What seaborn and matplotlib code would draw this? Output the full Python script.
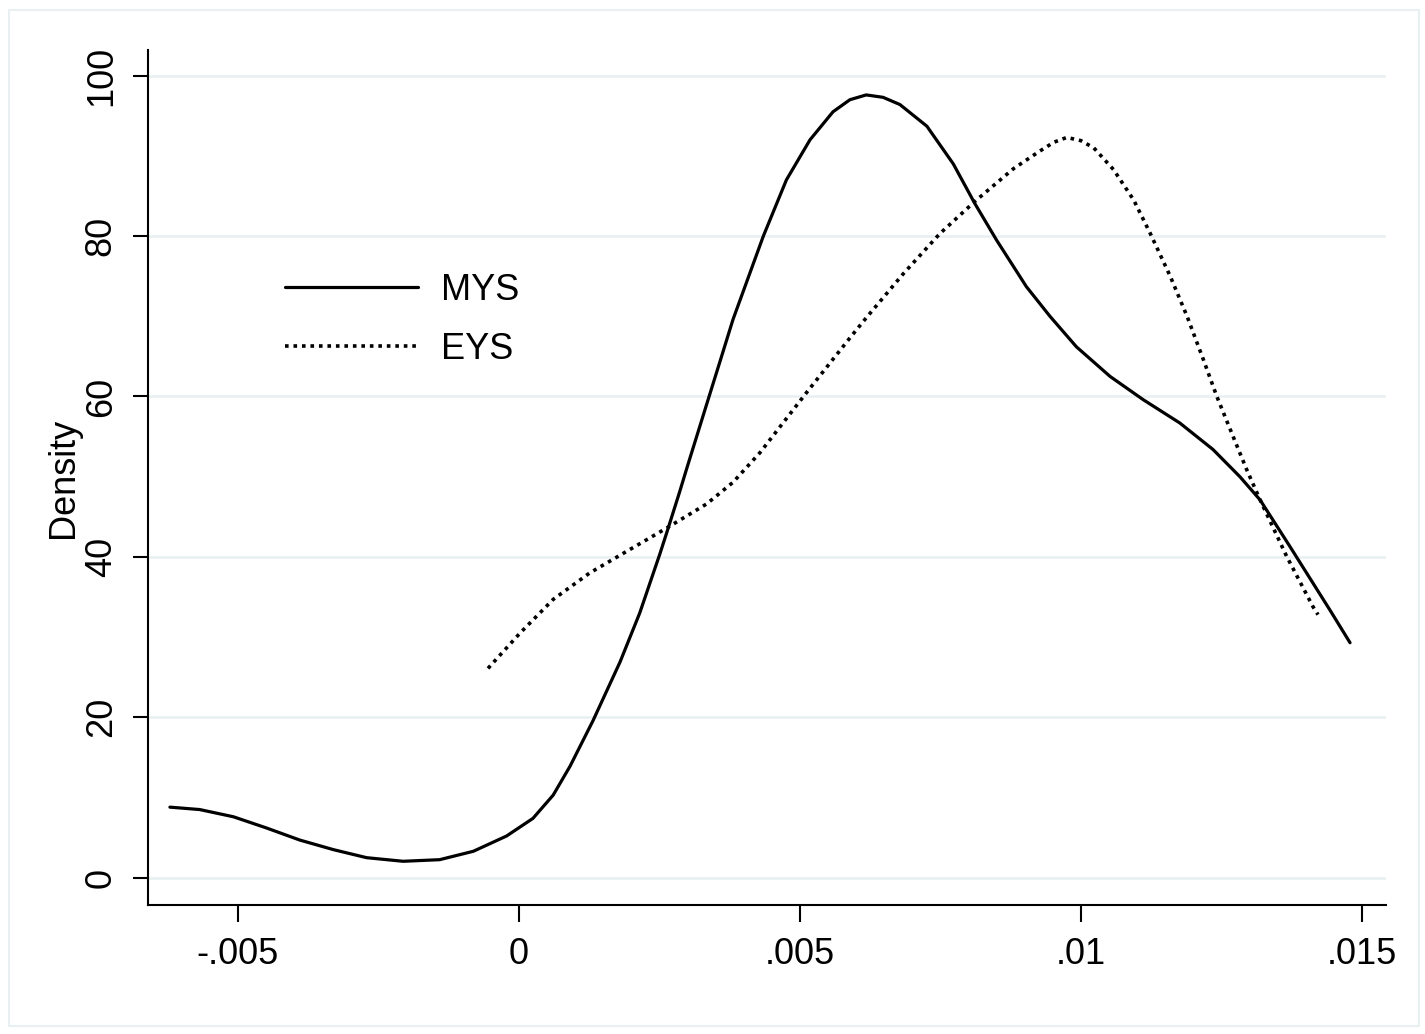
import matplotlib
matplotlib.use("Agg")
import matplotlib.pyplot as plt
import seaborn as sns
import pandas as pd
from matplotlib.patches import Rectangle

# -----------------------------------------
# Data (kernel density curves)
# -----------------------------------------
mys_x = [-0.00621, -0.00568, -0.00508, -0.00449, -0.0039, -0.0033, -0.00271,
         -0.00206, -0.00141, -0.00081, -0.00022, 0.00025, 0.00061, 0.00091,
         0.00132, 0.0018, 0.00215, 0.00251, 0.00263, 0.00286, 0.00299,
         0.00334, 0.00358, 0.00381, 0.00435, 0.00476, 0.00518, 0.00559,
         0.00589, 0.00618, 0.00648, 0.00678, 0.00726, 0.00773, 0.00811,
         0.0085, 0.00903, 0.00945, 0.00992, 0.01052, 0.01111, 0.01176,
         0.01235, 0.01283, 0.01319, 0.01372, 0.01443, 0.01479]
mys_y = [8.8, 8.5, 7.6, 6.2, 4.7, 3.5, 2.5,
         2.05, 2.25, 3.3, 5.2, 7.4, 10.3, 13.9,
         19.6, 26.9, 33.0, 40.4, 43.0, 48.1, 51.1,
         59.0, 64.4, 69.6, 80.0, 87.0, 92.0, 95.5,
         97.0, 97.6, 97.3, 96.4, 93.7, 89.0, 84.1,
         79.5, 73.7, 70.0, 66.2, 62.5, 59.6, 56.7,
         53.4, 50.0, 47.1, 41.3, 33.4, 29.3]

eys_x = [-0.00055, 0.00002, 0.00061, 0.00126, 0.00192, 0.00263, 0.00334,
         0.00381, 0.00429, 0.00512, 0.00589, 0.00618, 0.00684, 0.00749,
         0.00811, 0.0088, 0.00927, 0.00952, 0.00975, 0.01, 0.01023, 0.01058,
         0.01094, 0.01123, 0.01159, 0.01189, 0.01218, 0.01242, 0.01271,
         0.01295, 0.01319, 0.01366, 0.01413, 0.01422]
eys_y = [26.1, 30.5, 34.7, 38.0, 40.7, 43.6, 46.6,
         49.3, 53.0, 60.5, 67.3, 69.8, 75.3, 80.3,
         84.3, 88.4, 90.6, 91.7, 92.3, 91.9, 91.0, 88.3,
         84.5, 80.4, 75.0, 70.0, 64.6, 60.0, 55.0,
         50.9, 47.1, 40.1, 33.8, 32.8]

x_ticks = [-0.005, 0, 0.005, 0.01, 0.015]
x_tick_labels = ["-.005", "0", ".005", ".01", ".015"]
y_ticks = [0, 20, 40, 60, 80, 100]

mys = pd.DataFrame({"x": mys_x, "y": mys_y})
eys = pd.DataFrame({"x": eys_x, "y": eys_y})

# -----------------------------------------
# Style
# -----------------------------------------
sns.set_style("white")
plt.rcParams["font.family"] = ["Liberation Sans", "DejaVu Sans"]
plt.rcParams["text.color"] = "black"
plt.rcParams["axes.labelcolor"] = "black"
plt.rcParams["xtick.color"] = "black"
plt.rcParams["ytick.color"] = "black"

fs = 26

fig = plt.figure(figsize=(14.25, 10.34), dpi=100)
ax = fig.add_axes([148 / 1425, 1 - 905 / 1034, (1386 - 148) / 1425, (905 - 50) / 1034])

grid_col = "#E8F0F2"
for yt in y_ticks:
    ax.axhline(yt, color=grid_col, lw=1.8, zorder=0)

sns.lineplot(data=mys, x="x", y="y", color="black", lw=2.3, sort=False,
             estimator=None, label="MYS", ax=ax)
sns.lineplot(data=eys, x="x", y="y", color="black", lw=2.6, sort=False,
             estimator=None, label="EYS", linestyle=(0, (1, 1.35)), ax=ax)

ax.set_xlim(-0.0066, 0.01543)
ax.set_ylim(-3.4, 103.2)
ax.set_xticks(x_ticks)
ax.set_xticklabels(x_tick_labels)
ax.set_yticks(y_ticks)
ax.set_yticklabels([str(v) for v in y_ticks])

for side in ["top", "right"]:
    ax.spines[side].set_visible(False)
for side in ["left", "bottom"]:
    ax.spines[side].set_color("black")
    ax.spines[side].set_linewidth(1.5)

ax.tick_params(axis="x", length=12, width=1.5, pad=11, labelsize=fs,
               direction="out", bottom=True)
ax.tick_params(axis="y", length=11, width=1.5, pad=10, labelsize=fs,
               direction="out", left=True, labelrotation=90)
for lab in ax.get_yticklabels():
    lab.set_va("center")

ax.set_xlabel("")
ax.set_ylabel("Density", fontsize=fs, color="black")
ax.yaxis.set_label_coords(-0.054, 0.5)

leg = ax.legend(loc="center left", bbox_to_anchor=((285 - 148) / 1238, (905 - 320) / 855),
                frameon=False, fontsize=fs, handlelength=3.68, handletextpad=0.64,
                labelspacing=0.66, borderpad=0, borderaxespad=0)

# light outer frame like the original export
fig.patches.append(Rectangle((9 / 1425, 1 - 1026 / 1034), 1410 / 1425, 1016 / 1034,
                             transform=fig.transFigure, fill=False,
                             edgecolor=grid_col, lw=1.5))

fig.savefig("out.png", dpi=100, facecolor="white")
